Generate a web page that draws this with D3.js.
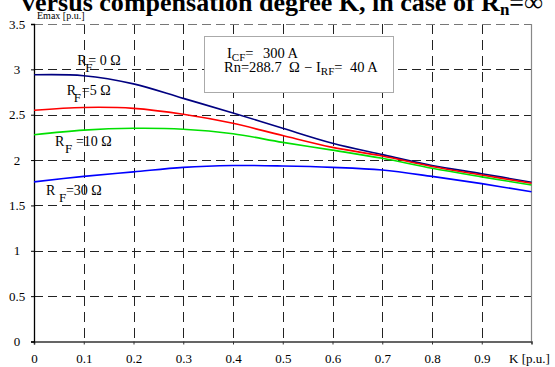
<!DOCTYPE html>
<html>
<head>
<meta charset="utf-8">
<script src="https://cdn.jsdelivr.net/npm/d3@7"></script>
<style>
  body { margin: 0; background: #fff; }
</style>
</head>
<body>
<div id="chart"></div>
<script>
// K values (p.u.) and Emax (p.u.)
const kValues = [0, 0.1, 0.2, 0.3, 0.4, 0.5, 0.6, 0.7, 0.8, 0.9, 1.0];
const emaxRf0 = [2.94, 2.93, 2.84, 2.68, 2.52, 2.35, 2.185, 2.06, 1.94, 1.85, 1.755];
const emaxRf5 = [2.55, 2.58, 2.57, 2.505, 2.405, 2.27, 2.14, 2.045, 1.93, 1.835, 1.745];
const emaxRf10 = [2.28, 2.33, 2.35, 2.34, 2.29, 2.195, 2.11, 2.02, 1.91, 1.815, 1.725];
const emaxRf30 = [1.76, 1.82, 1.87, 1.92, 1.94, 1.935, 1.92, 1.89, 1.82, 1.74, 1.65];

const xTicks = [0, 0.1, 0.2, 0.3, 0.4, 0.5, 0.6, 0.7, 0.8, 0.9];
const yTicks = [0, 0.5, 1, 1.5, 2, 2.5, 3, 3.5];

const series = [
  { name: "RF=0", values: emaxRf0, color: "#000080" },
  { name: "RF=5", values: emaxRf5, color: "#ff0000" },
  { name: "RF=10", values: emaxRf10, color: "#00e000" },
  { name: "RF=30", values: emaxRf30, color: "#0000ff" }
];

const serif = "'Liberation Serif', 'Times New Roman', serif";
const width = 555, height = 367;
const margin = { left: 34, right: 23.5, top: 24, bottom: 25.5 };

const svg = d3.select("#chart").append("svg")
  .attr("width", width)
  .attr("height", height)
  .attr("font-family", serif);

const x = d3.scaleLinear().domain([0, 1]).range([margin.left, width - margin.right]);
const y = d3.scaleLinear().domain([0, 3.5]).range([height - margin.bottom, margin.top]);

// grid
svg.append("g")
  .selectAll("line")
  .data(xTicks.slice(1))
  .enter().append("line")
  .attr("x1", d => Math.round(x(d)) + 0.5)
  .attr("x2", d => Math.round(x(d)) + 0.5)
  .attr("y1", y(3.5))
  .attr("y2", y(0))
  .attr("stroke", "#222")
  .attr("stroke-dasharray", "10,6");

svg.append("g")
  .selectAll("line")
  .data(yTicks.slice(1))
  .enter().append("line")
  .attr("x1", x(0))
  .attr("x2", x(1))
  .attr("y1", d => Math.round(y(d)) + 0.5)
  .attr("y2", d => Math.round(y(d)) + 0.5)
  .attr("stroke", d => d == 3.5 ? "#777" : "#222")
  .attr("stroke-dasharray", "9,5");

// right border
svg.append("line")
  .attr("x1", x(1)).attr("x2", x(1))
  .attr("y1", y(3.5)).attr("y2", y(0))
  .attr("stroke", "#888").attr("stroke-width", 1.2);

// axes
const xAxis = d3.axisBottom(x).tickValues(xTicks).tickSize(3).tickFormat(d3.format(".1~f"));
const yAxis = d3.axisLeft(y).tickValues(yTicks).tickSize(3).tickFormat(d3.format(".1~f"));

const gx = svg.append("g")
  .attr("transform", "translate(0," + y(0) + ")")
  .call(xAxis)
  .attr("font-family", serif);
gx.select(".domain").attr("stroke", "#333").attr("stroke-width", 1.6);
gx.selectAll(".tick line").attr("stroke", "#333");
gx.selectAll(".tick text")
  .attr("y", 12)
  .attr("font-size", 13)
  .attr("fill", "#000");

const gy = svg.append("g")
  .attr("transform", "translate(" + x(0) + ",0)")
  .call(yAxis)
  .attr("font-family", serif);
gy.select(".domain").attr("stroke", "#000").attr("stroke-width", 1.3);
gy.selectAll(".tick line").attr("stroke", "#000");
gy.selectAll(".tick text")
  .attr("text-anchor", "middle")
  .attr("x", -17)
  .attr("font-size", 13)
  .attr("fill", "#000");

// curves
const line = d3.line()
  .x((d, i) => x(kValues[i]))
  .y(d => y(d))
  .curve(d3.curveCatmullRom);

svg.append("g")
  .selectAll("path")
  .data(series)
  .enter().append("path")
  .attr("d", d => line(d.values))
  .attr("fill", "none")
  .attr("stroke", d => d.color)
  .attr("stroke-width", 1.6);

// axis titles
svg.append("text")
  .attr("x", 37).attr("y", 19)
  .attr("font-size", 10)
  .text("Emax [p.u.]");

svg.append("text")
  .attr("x", 509).attr("y", 363)
  .attr("font-size", 13)
  .text("K [p.u.]");

// curve labels (anchored in data coords, offsets in px from the R)
const labels = [
  { k: 0.087, v: 3.05, rest: "= 0  \u03A9", subOff: 8, restOff: 11 },
  { k: 0.066, v: 2.72, rest: "=5  \u03A9", subOff: 7, restOff: 15 },
  { k: 0.042, v: 2.15, rest: "=10 \u03A9", subOff: 10, restOff: 21 },
  { k: 0.024, v: 1.615, rest: "=30 \u03A9", subOff: 13, restOff: 20 }
];

labels.forEach(function(l) {
  const x0 = x(l.k), y0 = y(l.v);
  const t = svg.append("text")
    .attr("x", x0)
    .attr("y", y0)
    .attr("font-size", 14);
  t.append("tspan").text("R");
  t.append("tspan")
    .attr("x", x0 + l.subOff)
    .attr("y", y0 + 7)
    .attr("font-size", 13)
    .text("F");
  t.append("tspan")
    .attr("x", x0 + l.restOff)
    .attr("y", y0)
    .text(l.rest);
});

// info box
svg.append("rect")
  .attr("x", 204.5).attr("y", 36.5)
  .attr("width", 189).attr("height", 56)
  .attr("fill", "#fff")
  .attr("stroke", "#aaa");

const t1 = svg.append("text").attr("x", 227).attr("y", 58).attr("font-size", 14.5);
t1.append("tspan").text("I");
t1.append("tspan").attr("dy", 3).attr("font-size", 11).text("CF");
t1.append("tspan").attr("dy", -3).text("=  ");
t1.append("tspan").attr("x", 263).text("300 A");

const t2 = svg.append("text").attr("x", 224).attr("y", 72).attr("font-size", 14.5);
t2.append("tspan").text("Rn=288.7");
t2.append("tspan").attr("x", 289).text("\u03A9");
t2.append("tspan").attr("x", 304).text("\u2212");
t2.append("tspan").attr("x", 316).text("I");
t2.append("tspan").attr("dy", 3).attr("font-size", 11).text("RF");
t2.append("tspan").attr("dy", -3).text("=");
t2.append("tspan").attr("x", 350).text("40 A");

// title (cut off at the top of the picture)
const title = svg.append("text")
  .attr("x", 22).attr("y", 11)
  .attr("font-size", 22)
  .attr("font-weight", "bold");
const titleMain = title.append("tspan").text("versus compensation degree K, in case of R");
const mainLen = titleMain.node().getComputedTextLength();
title.attr("font-size", 22 * 478 / mainLen);
title.append("tspan").attr("dy", 4).attr("font-size", 17).text("n");
title.append("tspan").attr("dy", -4).text("=\u221E");
</script>
</body>
</html>
